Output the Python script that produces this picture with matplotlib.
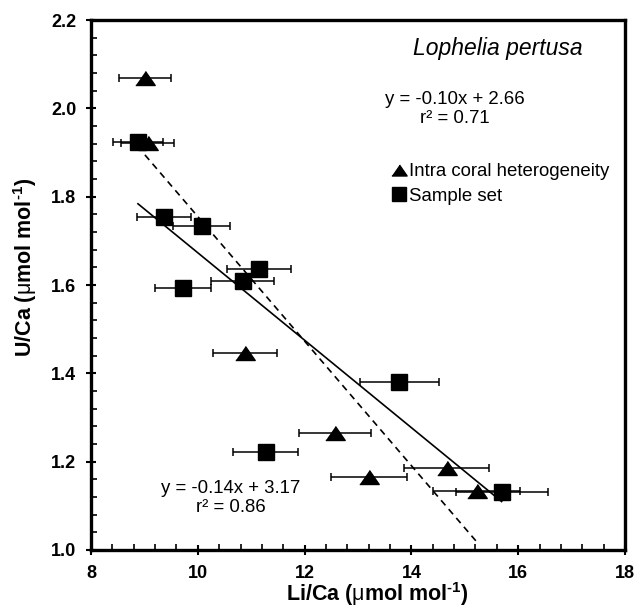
import numpy as np
import matplotlib
matplotlib.use('Agg')
import matplotlib.pyplot as plt
from matplotlib.lines import Line2D

plt.rcParams['font.family'] = ['Liberation Sans', 'DejaVu Sans']
plt.rcParams['mathtext.fontset'] = 'custom'
plt.rcParams['mathtext.rm'] = 'Liberation Sans'
plt.rcParams['mathtext.bf'] = 'Liberation Sans:bold'
plt.rcParams['mathtext.it'] = 'Liberation Sans:italic'

# Intra coral heterogeneity (triangles)
tri_x = [9.01, 9.06, 10.88, 12.57, 13.21, 14.66, 15.22]
tri_y = [2.069, 1.921, 1.445, 1.264, 1.166, 1.186, 1.134]
tri_xerr = [0.48, 0.50, 0.60, 0.67, 0.71, 0.80, 0.82]

# Sample set (squares)
sq_x = [8.88, 9.37, 10.07, 9.72, 11.15, 10.84, 13.77, 11.27, 15.69]
sq_y = [1.924, 1.755, 1.734, 1.593, 1.636, 1.610, 1.380, 1.223, 1.132]
sq_xerr = [0.47, 0.50, 0.53, 0.52, 0.60, 0.59, 0.74, 0.61, 0.86]

# regression lines as drawn
fit_sq = (-0.099, 2.663)
fit_tri = (-0.141, 3.165)

eq_sq = 'y = -0.10x + 2.66\nr² = 0.71'
eq_tri = 'y = -0.14x + 3.17\nr² = 0.86'

tri_marker = [(-1, -0.72), (1, -0.72), (0, 0.72)]

fig = plt.figure(figsize=(6.38, 6.08), dpi=100)
ax = fig.add_axes([0.1426, 0.0954, 0.8370, 0.8717])

xs = np.array([min(sq_x), max(sq_x)])
ax.plot(xs, fit_sq[0] * xs + fit_sq[1], color='black', lw=1.2, zorder=2)
xt = np.array([min(tri_x), max(tri_x)])
ax.plot(xt, fit_tri[0] * xt + fit_tri[1], color='black', lw=1.2,
        ls=(0, (4, 3)), zorder=2)

ax.errorbar(tri_x, tri_y, xerr=tri_xerr, fmt='none', ecolor='black',
            elinewidth=1.1, capsize=2.6, capthick=1.1, zorder=3)
ax.errorbar(sq_x, sq_y, xerr=sq_xerr, fmt='none', ecolor='black',
            elinewidth=1.1, capsize=2.6, capthick=1.1, zorder=3)
ax.plot(tri_x, tri_y, ls='none', marker=tri_marker, ms=14,
        color='black', zorder=4)
ax.plot(sq_x, sq_y, ls='none', marker='s', ms=11, color='black', zorder=5)

ax.set_xlim(8, 18)
ax.set_ylim(1.0, 2.2)
ax.set_xticks(np.arange(8, 18.1, 2))
ax.set_yticks(np.arange(1.0, 2.21, 0.2))
ax.set_xticks(np.arange(8, 18.01, 0.4), minor=True)
ax.set_yticks(np.arange(1.0, 2.201, 0.04), minor=True)
ax.set_xticklabels([f'{v:g}' for v in np.arange(8, 18.1, 2)])
ax.set_yticklabels([f'{v:.1f}' for v in np.arange(1.0, 2.21, 0.2)])

for s in ax.spines.values():
    s.set_linewidth(2.4)
ax.tick_params(which='major', direction='inout', length=7, width=1.5,
               labelsize=13, pad=7)
ax.tick_params(which='minor', direction='in', length=4, width=1.2)
for lab in ax.get_xticklabels() + ax.get_yticklabels():
    lab.set_fontweight('bold')

unit = (r'$\mathbf{(}\mathrm{\mu}\mathbf{mol\ mol^{' + '\u2010'
        + r'1})}$')
ax.set_xlabel(r'$\mathbf{Li/Ca}$ ' + unit, fontsize=15.5)
ax.set_ylabel(r'$\mathbf{U/Ca}$ ' + unit, fontsize=15.5)
ax.xaxis.set_label_coords(0.536, -0.057)
ax.yaxis.set_label_coords(-0.097, 0.534)

ax.text(0.762, 0.947, 'Lophelia pertusa', transform=ax.transAxes,
        fontsize=16.5, style='italic', ha='center', va='center')
ax.text(0.682, 0.832, eq_sq, transform=ax.transAxes, fontsize=13.4,
        ha='center', va='center', multialignment='center', linespacing=1.15)
ax.text(0.262, 0.099, eq_tri, transform=ax.transAxes, fontsize=13.4,
        ha='center', va='center', multialignment='center', linespacing=1.15)

handles = [Line2D([], [], ls='none', marker=tri_marker, ms=11, color='black'),
           Line2D([], [], ls='none', marker='s', ms=10, color='black')]
ax.legend(handles, ['Intra coral heterogeneity', 'Sample set'],
          loc='upper left', bbox_to_anchor=(0.565, 0.73), frameon=False,
          fontsize=13.4, handlelength=0.7, handletextpad=0.2,
          labelspacing=0.4, borderpad=0, borderaxespad=0)

fig.savefig('out.png', dpi=100)
